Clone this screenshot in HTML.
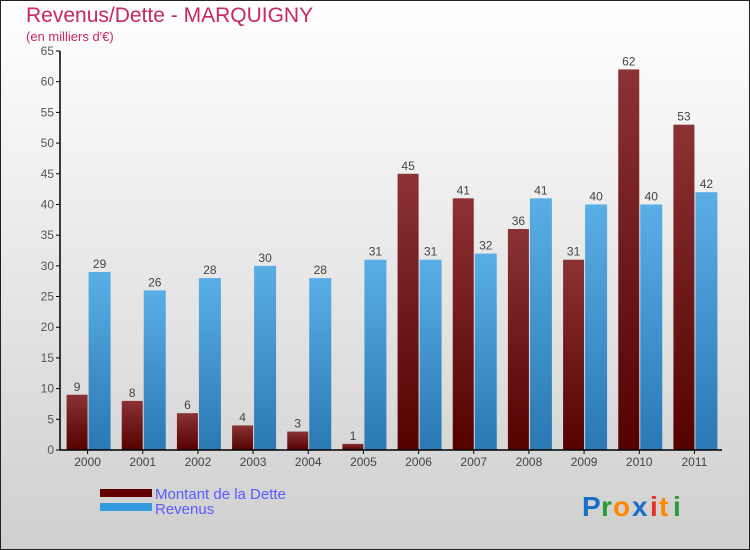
<!DOCTYPE html>
<html><head><meta charset="utf-8">
<style>
body{margin:0;width:750px;height:550px;overflow:hidden;font-family:"Liberation Sans",sans-serif;}
svg{display:block}
</style></head>
<body>
<svg id="chart" width="750" height="550" xmlns="http://www.w3.org/2000/svg">
<defs>
<linearGradient id="bg" x1="0" y1="0" x2="0" y2="1"><stop offset="0" stop-color="#ffffff"/><stop offset="1" stop-color="#cfcfcf"/></linearGradient>
<linearGradient id="gd" x1="0" y1="0" x2="0" y2="1"><stop offset="0" stop-color="#8a3234"/><stop offset="1" stop-color="#560000"/></linearGradient>
<linearGradient id="gr" x1="0" y1="0" x2="0" y2="1"><stop offset="0" stop-color="#5aaee6"/><stop offset="1" stop-color="#2a78b4"/></linearGradient>
</defs>
<rect x="0.5" y="0.5" width="749" height="549" fill="url(#bg)" stroke="#222"/>
<text x="26" y="22" font-size="21" fill="#c8285a">Revenus/Dette - MARQUIGNY</text>
<text x="26" y="41" font-size="13" fill="#c8285a">(en milliers d'€)</text>
<g id="grid"></g>
<g id="bars"></g>
<g id="axes"></g>
<rect x="100" y="489" width="52" height="8" fill="#600000"/>
<text x="155" y="499" font-size="15" fill="#5a5aff">Montant de la Dette</text>
<rect x="100" y="503" width="52" height="8" fill="#3399dd"/>
<text x="155" y="514" font-size="15" fill="#5a5aff">Revenus</text>
<g font-size="28" font-weight="bold">
<text x="582" y="516" fill="#1a70c8">P</text><text x="601" y="516" fill="#2a9a3a">r</text><text x="613" y="516" fill="#ff8800">o</text><text x="632" y="516" fill="#1a70c8">x</text><text x="650" y="516" fill="#e83020">i</text><text x="659" y="516" fill="#ff8800">t</text><text x="673" y="516" fill="#2a9a3a">i</text>
</g>
</svg>
<script>
const years=["2000","2001","2002","2003","2004","2005","2006","2007","2008","2009","2010","2011"];
const dette=[9,8,6,4,3,1,45,41,36,31,62,53];
const revenus=[29,26,28,30,28,31,31,32,41,40,40,42];
const yTicks=[0,5,10,15,20,25,30,35,40,45,50,55,60,65];
const NS="http://www.w3.org/2000/svg";
const x0=60,x1=722,y0=450,yTop=51,yMax=65;
const bw=(x1-x0)/years.length;
function ys(v){return y0-(v/yMax)*(y0-yTop);}
function xc(i){return x0+bw*(i+0.5);}
function mk(tag,attrs,parent){const e=document.createElementNS(NS,tag);for(const k in attrs)e.setAttribute(k,attrs[k]);parent.appendChild(e);return e;}
const axes=document.getElementById('axes'),bars=document.getElementById('bars');
yTicks.forEach(t=>{
 const l=mk('line',{x1:x0-4,x2:x0,y1:ys(t),y2:ys(t),stroke:'#000'},axes);
 
 
 const tx=mk('text',{x:x0-6,y:ys(t)+4,'font-size':12,fill:'#555','text-anchor':'end'},axes);
 tx.textContent=t;
 
 
});
years.forEach((y,i)=>{
 const c=xc(i);
 const d=mk('rect',{x:c-21,y:ys(dette[i]),width:21,height:y0-ys(dette[i]),fill:'url(#gd)'},bars);
 
 
 const r=mk('rect',{x:c+1,y:ys(revenus[i]),width:22,height:y0-ys(revenus[i]),fill:'url(#gr)'},bars);
 
 
 const dl=mk('text',{x:c-10.5,y:ys(dette[i])-4,'font-size':12,fill:'#444','text-anchor':'middle'},bars);
 dl.textContent=dette[i];
 
 
 const rl=mk('text',{x:c+12,y:ys(revenus[i])-4,'font-size':12,fill:'#444','text-anchor':'middle'},bars);
 rl.textContent=revenus[i];
 
 
 const tk=mk('line',{x1:c,x2:c,y1:y0,y2:y0+4,stroke:'#000'},axes);
 
 
 const xl=mk('text',{x:c,y:y0+16,'font-size':12,fill:'#444','text-anchor':'middle'},axes);
 xl.textContent=y;
 
 
});
const ya=mk('line',{x1:x0,x2:x0,y1:yTop,y2:y0,stroke:'#000','stroke-width':1.5},axes);


const xa=mk('line',{x1:x0,x2:x1,y1:y0,y2:y0,stroke:'#000','stroke-width':1.5},axes);


</script>
</body></html>
